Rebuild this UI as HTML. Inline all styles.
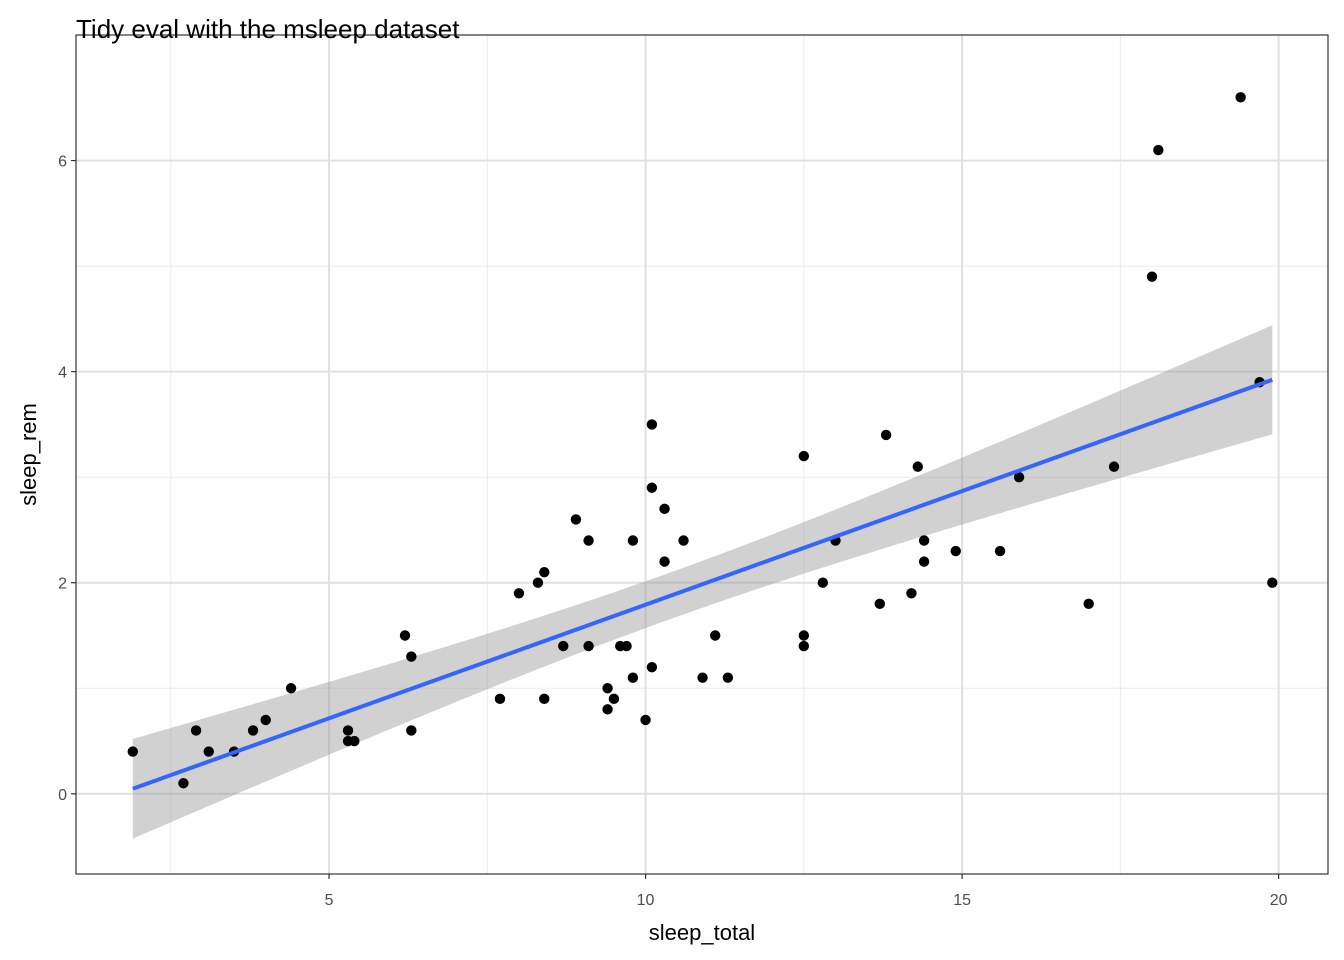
<!DOCTYPE html>
<html><head><meta charset="utf-8"><style>
body{margin:0;background:#fff;}
svg{display:block;font-family:"Liberation Sans",Arial,sans-serif;}
</style></head><body>
<svg id="c" width="1344" height="960"></svg>
<script>
const sleepTotal=[1.9,2.7,2.9,3.1,3.5,3.8,4.0,4.4,5.3,5.3,5.4,6.2,6.3,6.3,7.7,8.0,8.3,8.4,8.4,8.7,8.9,9.1,9.1,9.4,9.4,9.5,9.6,9.7,9.8,9.8,10.0,10.1,10.1,10.1,10.3,10.3,10.6,10.9,11.1,11.3,12.5,12.5,12.5,12.8,13.0,13.7,13.8,14.2,14.3,14.4,14.4,14.9,15.6,15.9,17.0,17.4,18.0,18.1,19.4,19.7,19.9];
const sleepRem=[0.4,0.1,0.6,0.4,0.4,0.6,0.7,1.0,0.6,0.5,0.5,1.5,1.3,0.6,0.9,1.9,2.0,2.1,0.9,1.4,2.6,2.4,1.4,1.0,0.8,0.9,1.4,1.4,2.4,1.1,0.7,3.5,2.9,1.2,2.7,2.2,2.4,1.1,1.5,1.1,3.2,1.5,1.4,2.0,2.4,1.8,3.4,1.9,3.1,2.4,2.2,2.3,2.3,3.0,1.8,3.1,4.9,6.1,6.6,3.9,2.0];
const xTicks=[5,10,15,20];
const xMinor=[2.5,7.5,12.5,17.5];
const yTicks=[0,2,4,6];
const yMinor=[1,3,5];

const L=76,R=1328,T=35,B=874;
const xMin=1.003,xMax=20.78,yMin=-0.76,yMax=7.19;
const sx=v=>L+(v-xMin)/(xMax-xMin)*(R-L);
const sy=v=>B-(v-yMin)/(yMax-yMin)*(B-T);
const NS="http://www.w3.org/2000/svg";
const svg=document.getElementById('c');
function mk(tag,attrs,parent){const e=document.createElementNS(NS,tag);for(const k in attrs)e.setAttribute(k,attrs[k]);(parent||svg).appendChild(e);return e;}

let r=mk('rect',{x:L,y:T,width:R-L,height:B-T,fill:'#fff'});


xMinor.forEach(v=>{const l=mk('line',{x1:sx(v),x2:sx(v),y1:T,y2:B,stroke:'#ebebeb','stroke-width':1});

});
yMinor.forEach(v=>{const l=mk('line',{x1:L,x2:R,y1:sy(v),y2:sy(v),stroke:'#ebebeb','stroke-width':1});

});
xTicks.forEach(v=>{const l=mk('line',{x1:sx(v),x2:sx(v),y1:T,y2:B,stroke:'#e0e0e0','stroke-width':2});


const tk=mk('line',{x1:sx(v),x2:sx(v),y1:B,y2:B+5,stroke:'#333','stroke-width':1.2});


const t=mk('text',{x:sx(v),y:B+31,'text-anchor':'middle','font-size':16,fill:'#4d4d4d'});t.textContent=v;

});
yTicks.forEach(v=>{const l=mk('line',{x1:L,x2:R,y1:sy(v),y2:sy(v),stroke:'#e0e0e0','stroke-width':2});


const tk=mk('line',{x1:L-5,x2:L,y1:sy(v),y2:sy(v),stroke:'#333','stroke-width':1.2});


const t=mk('text',{x:L-9,y:sy(v)+6,'text-anchor':'end','font-size':16,fill:'#4d4d4d'});t.textContent=v;

});

// linear regression + 95% CI
const n=sleepTotal.length;
const mx=sleepTotal.reduce((a,b)=>a+b)/n,my=sleepRem.reduce((a,b)=>a+b)/n;
let sxx=0,sxy=0;for(let i=0;i<n;i++){sxx+=(sleepTotal[i]-mx)**2;sxy+=(sleepTotal[i]-mx)*(sleepRem[i]-my);}
const b1=sxy/sxx,b0=my-b1*mx;
let sse=0;for(let i=0;i<n;i++)sse+=(sleepRem[i]-b0-b1*sleepTotal[i])**2;
const s=Math.sqrt(sse/(n-2)),tq=2.0;
const x0=Math.min(...sleepTotal),x1=Math.max(...sleepTotal);
const up=[],lo=[];
for(let k=0;k<=80;k++){const x=x0+(x1-x0)*k/80;const f=b0+b1*x;const se=s*Math.sqrt(1/n+(x-mx)**2/sxx);
up.push(sx(x)+','+sy(f+tq*se));lo.unshift(sx(x)+','+sy(f-tq*se));}
const band=mk('polygon',{points:up.concat(lo).join(' '),fill:'#999','fill-opacity':0.45});


sleepTotal.forEach((v,i)=>{const c=mk('circle',{cx:sx(v),cy:sy(sleepRem[i]),r:5.2,fill:'#000'});

});
const fl=mk('line',{x1:sx(x0),y1:sy(b0+b1*x0),x2:sx(x1),y2:sy(b0+b1*x1),stroke:'#3366FF','stroke-width':4});



const bd=mk('rect',{x:L,y:T,width:R-L,height:B-T,fill:'none',stroke:'#333','stroke-width':1.2});


let t=mk('text',{x:76,y:38,'font-size':26,fill:'#000'});t.textContent='Tidy eval with the msleep dataset';


t=mk('text',{x:(L+R)/2,y:940,'text-anchor':'middle','font-size':22,fill:'#000'});t.textContent='sleep_total';


t=mk('text',{x:36,y:(T+B)/2,'text-anchor':'middle','font-size':22,fill:'#000',transform:`rotate(-90 36 ${(T+B)/2})`});t.textContent='sleep_rem';


</script>
</body></html>
